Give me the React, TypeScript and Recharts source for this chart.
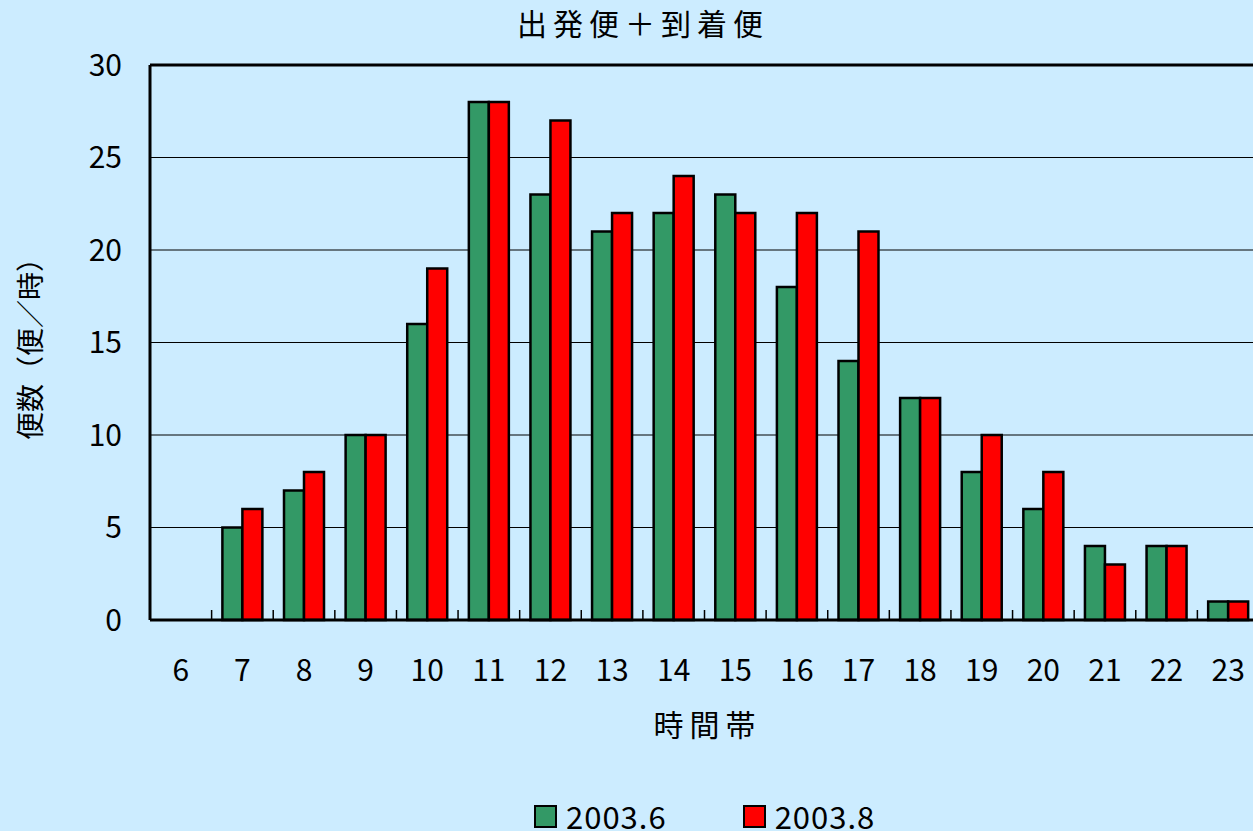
import React from "react";
import {
  BarChart,
  Bar,
  XAxis,
  YAxis,
  CartesianGrid,
  ReferenceLine,
  Label,
} from "recharts";

const hours = ["6", "7", "8", "9", "10", "11", "12", "13", "14", "15", "16", "17", "18", "19", "20", "21", "22", "23"];
const june = [0, 5, 7, 10, 16, 28, 23, 21, 22, 23, 18, 14, 12, 8, 6, 4, 4, 1];
const august = [0, 6, 8, 10, 19, 28, 27, 22, 24, 22, 22, 21, 12, 10, 8, 3, 4, 1];
const yTicks = [0, 5, 10, 15, 20, 25, 30];

const series = [
  { key: "jun", name: "2003.6", color: "#339966" },
  { key: "aug", name: "2003.8", color: "#FF0000" },
];

const data = hours.map((h, i) => ({ hour: h, jun: june[i], aug: august[i] }));

const FONT = "'Noto Sans CJK JP', 'Noto Sans', sans-serif";
const CHART_W = 1270;
const CHART_H = 831;
const PLOT_LEFT = 150;
const PLOT_TOP = 65;
const PLOT_BOTTOM = 620;
const PLOT_RIGHT = 1259;
const BAND = (PLOT_RIGHT - PLOT_LEFT) / hours.length;

function HourTick(props: any) {
  const { x, payload } = props;
  const cx = payload && payload.coordinate != null ? payload.coordinate : x;
  const edge = cx + BAND / 2;
  return (
    <g>
      <line x1={edge} x2={edge} y1={PLOT_BOTTOM} y2={PLOT_BOTTOM - 10} stroke="#000" strokeWidth={1.5} />
      <text
        x={cx}
        y={PLOT_BOTTOM + 61}
        textAnchor="middle"
        fontSize={30}
        fontFamily={FONT}
        fill="#000"
      >
        {payload.value}
      </text>
    </g>
  );
}

export default function App() {
  return (
    <div
      style={{
        position: "fixed",
        left: 0,
        top: 0,
        width: 1253,
        height: 831,
        overflow: "hidden",
        background: "#CCECFF",
        fontFamily: FONT,
      }}
    >
      <div
        style={{
          position: "absolute",
          top: 0,
          left: 3,
          width: 1280,
          textAlign: "center",
          fontSize: 30,
          letterSpacing: 6,
          color: "#000",
        }}
      >
        出発便＋到着便
      </div>
      <BarChart
        width={CHART_W}
        height={CHART_H}
        data={data}
        margin={{ top: PLOT_TOP, right: CHART_W - PLOT_RIGHT, left: 0, bottom: 0 }}
        barCategoryGap="17.5%"
        barGap={0}
      >
        <CartesianGrid horizontal vertical={false} stroke="#000" strokeWidth={1} />
        <XAxis
          dataKey="hour"
          height={CHART_H - PLOT_BOTTOM}
          tick={<HourTick />}
          tickLine={false}
          interval={0}
          axisLine={{ stroke: "#000", strokeWidth: 3 }}
        >
          <Label
            content={() => (
              <text
                x={(PLOT_LEFT + PLOT_RIGHT) / 2 + 3}
                y={736}
                textAnchor="middle"
                fontSize={30}
                letterSpacing={6}
                fontFamily={FONT}
                fill="#000"
              >
                時間帯
              </text>
            )}
          />
        </XAxis>
        <YAxis
          width={PLOT_LEFT}
          domain={[0, 30]}
          ticks={yTicks}
          interval={0}
          tickLine={false}
          tickSize={0}
          tickMargin={28}
          tick={{ fontSize: 30, fontFamily: FONT, fill: "#000" }}
          axisLine={{ stroke: "#000", strokeWidth: 3 }}
        >
          <Label
            content={() => (
              <text
                x={0}
                y={0}
                transform={`translate(41, 342) rotate(-90)`}
                textAnchor="middle"
                fontSize={28}
                fontFamily={FONT}
                fill="#000"
              >
                便数（便／時）
              </text>
            )}
          />
        </YAxis>
        <ReferenceLine y={30} stroke="#000" strokeWidth={3} />
        {series.map((s) => (
          <Bar
            key={s.key}
            dataKey={s.key}
            name={s.name}
            fill={s.color}
            stroke="#000"
            strokeWidth={2.5}
            isAnimationActive={false}
          />
        ))}
      </BarChart>
      <div
        style={{
          position: "absolute",
          top: 796,
          left: 534,
          display: "flex",
          fontSize: 31,
          letterSpacing: 1,
          color: "#000",
          lineHeight: "40px",
        }}
      >
        {series.map((s, i) => (
          <div key={s.key} style={{ display: "flex", alignItems: "center", marginRight: i === 0 ? 76 : 0 }}>
            <span
              style={{
                display: "inline-block",
                width: 19,
                height: 19,
                background: s.color,
                border: "2px solid #000",
                marginRight: 9,
              }}
            />
            <span>{s.name}</span>
          </div>
        ))}
      </div>
    </div>
  );
}
